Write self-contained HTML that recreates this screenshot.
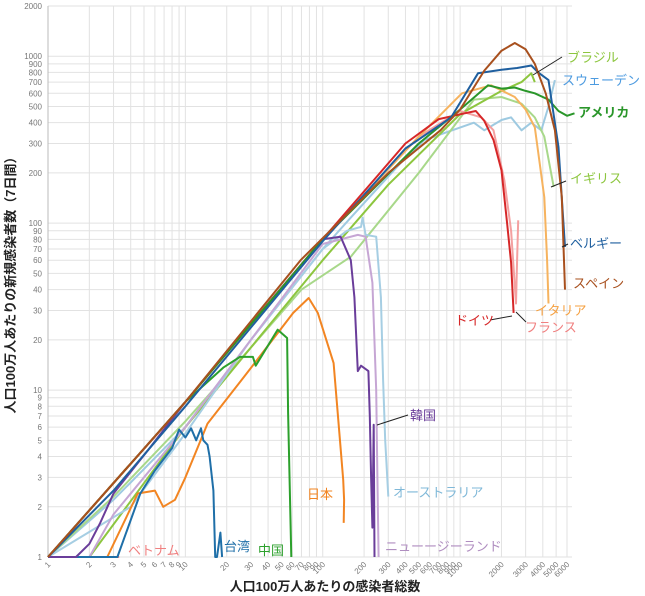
<!DOCTYPE html>
<html><head><meta charset="utf-8">
<style>
html,body{margin:0;padding:0;background:#fff;}
svg{display:block;font-family:"Liberation Sans","Noto Sans CJK JP",sans-serif;}
</style></head>
<body>
<svg id="chart" width="645" height="596" viewBox="0 0 645 596">
<g id="grid"></g>
<g id="yticks"></g>
<g id="xticks"></g>
<g id="series"></g>
<g id="labels"></g>
<text x="325" y="591" text-anchor="middle" font-size="13" font-weight="bold" fill="#222">人口100万人あたりの感染者総数</text>
<text transform="translate(15,282) rotate(-90)" text-anchor="middle" font-size="13" font-weight="bold" fill="#222">人口100万人あたりの新規感染者数（7日間）</text>
</svg>
<script>
const yTickValues=[1,2,3,4,5,6,7,8,9,10,20,30,40,50,60,70,80,90,100,200,300,400,500,600,700,800,900,1000,2000];
const xTickValues=[1,2,3,4,5,6,7,8,9,10,20,30,40,50,60,70,80,90,100,200,300,400,500,600,700,800,900,1000,2000,3000,4000,5000,6000];

const spainX=[1,10,69,300,720,1000,1500,2000,2500,3000,3500,4200,4900,5500,5800];
const spainY=[1,8.5,60,200,360,480,820,1080,1200,1100,900,600,360,143,40];
const belgiumX=[1,3,10,100,400,860,1350,2000,2600,3300,3700,4400,5200,5800];
const belgiumY=[1,2.5,8,78,280,430,790,830,850,880,800,720,285,72];
const usaX=[1,10,100,500,1000,1600,2000,2500,3000,3500,4400,5200,6000,6800];
const usaY=[1,8.5,80,300,480,670,640,650,620,600,550,470,440,455];
const ukX=[1,3,10,30,70,160,500,1260,2000,2800,3500,4100,4800];
const ukY=[1,2.3,6.5,18,40,63,200,550,570,520,430,330,165];
const brazilX=[2,10,30,100,300,1000,2000,2800,3300,3500];
const brazilY=[1,6,18,60,170,450,620,700,790,700];
const swedenX=[1,3,10,30,100,160,370,550,1260,1500,2000,2350,2800,3300,3900,4400,4900];
const swedenY=[1,2.2,6,20,70,108,230,315,400,360,415,430,360,400,360,500,720];
const australiaX=[1,4,10,30,100,150,190,195,205,245,265,275,285,300];
const australiaY=[1,2,5.5,20,70,90,95,108,85,83,36,11.5,5,2.3];
const koreaX=[1,1.6,2,2.4,3,5.5,10,30,100,135,160,170,180,190,215,220,225,230,235,238];
const koreaY=[1,1,1.2,1.6,2.4,4.5,8.5,25,80,83,60,36,13,14,13,7,3,1.5,6.2,1];
const nzX=[1,2,3,10,30,100,180,205,230,245,250,255];
const nzY=[1,1,1.8,6,20,75,85,83,44,10,3,1];
const japanX=[1,2.7,4.5,6,6.9,8.4,10,14.5,28,61,79,92,120,135,141,143,142];
const japanY=[1,1,2.4,2.5,2.0,2.2,3,6.3,12.6,29,35.6,29,14.5,4.5,2.9,2.2,1.6];
const taiwanX=[1,3.2,4.7,6,8,9,10,11,12,13,13.5,14.5,15,16,16.5,17,18,18.5];
const taiwanY=[1,1,2.4,3.3,4.5,5.8,5.2,5.9,5.0,5.9,5,4.7,4,2.5,1,1,1.4,1];
const chinaX=[1,10,19,25,31,32.5,47,55,56,59];
const chinaY=[1,8.5,13.7,15.8,15.8,14,23,20.5,7.3,1];
const vietnamX=[1,2,3.3];
const vietnamY=[1,1,1];
const germanyX=[1,10,100,400,700,1080,1300,1500,1750,2000,2200,2350,2450];
const germanyY=[1,8.5,80,300,420,455,470,410,315,207,100,58,29];
const franceX=[1,10,100,500,1000,1430,1750,2100,2350,2550,2600,2650];
const franceY=[1,8.5,80,330,470,430,360,180,90,33,60,104];
const italyX=[1,10,100,500,1030,1680,2500,3000,3500,4100,4300,4400];
const italyY=[1,8.5,80,330,600,670,570,480,375,143,60,33];

const L=48,R=567,T=6,B=557;
const xMax=6000,yMax=2000;
function xs(v){return L+(R-L)*Math.log10(v)/Math.log10(xMax);}
function ys(v){return B-(B-T)*Math.log10(v)/Math.log10(yMax);}
const NS="http://www.w3.org/2000/svg";
function mk(tag,attrs,parent){const e=document.createElementNS(NS,tag);for(const k in attrs)e.setAttribute(k,attrs[k]);parent.appendChild(e);return e;}

const grid=document.getElementById('grid');
const yt=document.getElementById('yticks');
const xt=document.getElementById('xticks');
yTickValues.forEach(v=>{
  const g=mk('line',{x1:L,x2:R+5,y1:ys(v),y2:ys(v),stroke:'#e2e2e2','stroke-width':1},grid);
  
  
  const t=mk('text',{x:42,y:ys(v)+3,'text-anchor':'end','font-size':8,fill:'#777'},yt);
  t.textContent=v;
  
  
});
xTickValues.forEach(v=>{
  const g=mk('line',{x1:xs(v),x2:xs(v),y1:T,y2:B,stroke:'#e2e2e2','stroke-width':1},grid);
  
  
  const t=mk('text',{x:0,y:0,'text-anchor':'end','font-size':8,fill:'#777',transform:'translate('+(xs(v)+3)+','+(B+8)+') rotate(-45)'},xt);
  t.textContent=v;
  
  
});
const ax=mk('line',{x1:L,x2:L,y1:T,y2:B,stroke:'#bbb','stroke-width':1},grid);



const seriesList=[
 ['vietnam',vietnamX,vietnamY,'#f08080'],
 ['sweden',swedenX,swedenY,'#9ecae1'],
 ['uk',ukX,ukY,'#a8d88a'],
 ['brazil',brazilX,brazilY,'#8dc63f'],
 ['australia',australiaX,australiaY,'#a6cee3'],
 ['new-zealand',nzX,nzY,'#c6a6d4'],
 ['japan',japanX,japanY,'#f28522'],
 ['taiwan',taiwanX,taiwanY,'#1f6fa8'],
 ['china',chinaX,chinaY,'#2ca02c'],
 ['korea',koreaX,koreaY,'#6a3d9a'],
 ['france',franceX,franceY,'#f4a0a0'],
 ['italy',italyX,italyY,'#f6b35f'],
 ['germany',germanyX,germanyY,'#d62728'],
 ['usa',usaX,usaY,'#2a962a'],
 ['belgium',belgiumX,belgiumY,'#1f5f9f'],
 ['spain',spainX,spainY,'#a8501e']
];
const sg=document.getElementById('series');
seriesList.forEach(s=>{
  const d=s[1].map((x,i)=>(i?'L':'M')+xs(x).toFixed(1)+','+ys(s[2][i]).toFixed(1)).join(' ');
  const p=mk('path',{d:d,fill:'none',stroke:s[3],'stroke-width':2,'stroke-linejoin':'round'},sg);
  
  
});

const lg=document.getElementById('labels');
const labels=[
 ['ブラジル',567,62,'#8dc63f','normal',[533,75,562,57]],
 ['スウェーデン',562,85,'#4d9be0','normal',null],
 ['アメリカ',578,117,'#2a962a','bold',null],
 ['イギリス',570,183,'#8dc63f','normal',[551,187,566,181]],
 ['ベルギー',570,248,'#1f5f9f','normal',[562,247,568,244]],
 ['スペイン',573,288,'#a8501e','normal',null],
 ['イタリア',535,315,'#f5a040','normal',null],
 ['ドイツ',455,325,'#d62728','normal',[490,320,512,316]],
 ['フランス',525,332,'#f08080','normal',[516,312,526,322]],
 ['韓国',410,420,'#6a3d9a','normal',[377,425,408,415]],
 ['オーストラリア',393,497,'#7fb8d8','normal',null],
 ['ニューージーランド',385,551,'#b08ec0','normal',null],
 ['日本',307,499,'#f28522','normal',null],
 ['中国',258,555,'#2ca02c','normal',null],
 ['台湾',224,551,'#1f6fa8','normal',null],
 ['ベトナム',128,555,'#f08080','normal',null]
];
labels.forEach(l=>{
  if(l[5]){
    const ln=mk('line',{x1:l[5][0],y1:l[5][1],x2:l[5][2],y2:l[5][3],stroke:'#222','stroke-width':1},lg);
    
    
  }
  const t=mk('text',{x:l[1],y:l[2],'font-size':13,fill:l[3],'font-weight':l[4]},lg);
  t.textContent=l[0];
  
  
});
</script>
</body></html>
